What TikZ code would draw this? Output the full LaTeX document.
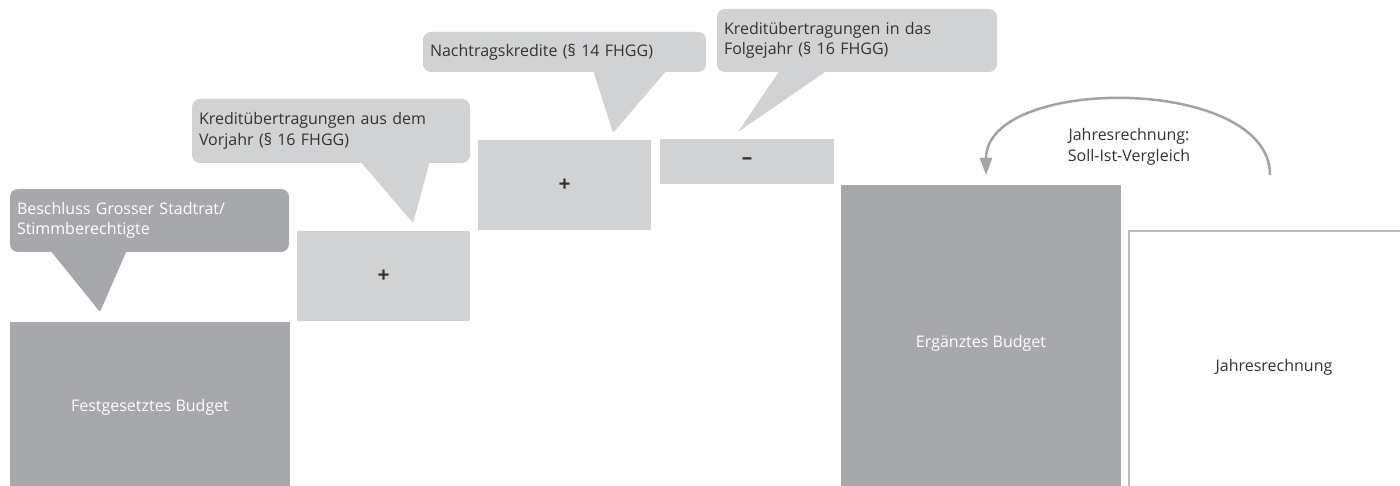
\documentclass[tikz,border=0pt]{standalone}
\usepackage{fontspec}
\setmainfont{Open Sans}
\usetikzlibrary{arrows.meta,calc}
\definecolor{darkgrey}{HTML}{A7A8AB}
\definecolor{lightgrey}{HTML}{D1D2D4}
\definecolor{textgrey}{HTML}{333333}
\definecolor{arcgrey}{HTML}{A2A3A6}

\begin{document}
\begin{tikzpicture}[x=1pt, y=-1pt,
			every node/.style = {shape=rectangle, inner sep=0pt, outer sep=0pt,
				font=\fontsize{16}{20.5}\selectfont},
			bigbox/.style = {anchor=north west, fill=darkgrey, text=white},
			addbox/.style = {anchor=north west, fill=lightgrey, text=textgrey,
				font=\fontsize{21}{20}\selectfont\bfseries},
			bubble/.style = {anchor=north west, rounded corners=8pt, align=left,
				inner xsep=7pt, text width=#1},
			arc/.style = {draw=arcgrey, line width=2.5pt,
				-{Triangle[width=12pt,length=17pt]}}]
			\useasboundingbox (0,0) rectangle (1400,486);
			\node[bigbox, minimum width=280pt, minimum height=170pt] (fb) at (10,322) {Festgesetztes Budget};
			\node[addbox, minimum width=173pt, minimum height=90pt] (plus1) at (297,231) {+};
			\node[addbox, minimum width=173pt, minimum height=90pt] (plus2) at (478,140) {+};
			\node[addbox, minimum width=174pt, minimum height=45pt] (minus) at (660,139) {–};
			\node[bigbox, minimum width=280pt, minimum height=316pt] (eb) at (841,185) {Ergänztes Budget};
			\node[anchor=north west, draw=black!27, line width=1.5pt, fill=white, text=textgrey,
				minimum width=290pt, minimum height=272pt] (jr) at (1129,231) {Jahresrechnung};
			\node[bubble=265pt, fill=darkgrey, text=white, minimum height=63pt] (beschluss) at (10,189)
				{Beschluss Grosser Stadtrat/\\Stimmberechtigte};
			\node[bubble=264pt, fill=lightgrey, text=textgrey, minimum height=64pt] (vorjahr) at (192,99)
				{Kreditübertragungen aus dem\\Vorjahr (§ 16 FHGG)};
			\node[bubble=269pt, fill=lightgrey, text=textgrey, minimum height=40pt] (nachtrag) at (423,32)
				{Nachtragskredite (§ 14 FHGG)};
			\node[bubble=266pt, fill=lightgrey, text=textgrey, minimum height=63pt] (folgejahr) at (717,9)
				{Kreditübertragungen in das\\Folgejahr (§ 16 FHGG)};
			\fill[darkgrey, rounded corners=1.5pt] ($(beschluss.south west)+(40,-2)$) -- ($(beschluss.south west)+(117,-2)$)
				-- ($(fb.north west)+(90,-10)$) -- cycle;
			\fill[lightgrey, rounded corners=1.5pt] ($(vorjahr.south west)+(168,-2)$) -- ($(vorjahr.south west)+(238,-2)$)
				-- ($(plus1.north west)+(116,-8)$) -- cycle;
			\fill[lightgrey, rounded corners=1.5pt] ($(nachtrag.south west)+(170,-2)$) -- ($(nachtrag.south west)+(244,-2)$)
				-- ($(plus2.north west)+(135,-7)$) -- cycle;
			\fill[lightgrey, rounded corners=1.5pt] ($(folgejahr.south west)+(63,-2)$) -- ($(folgejahr.south west)+(111,-2)$)
				-- ($(minus.north west)+(78,-7)$) -- cycle;
			\coordinate (arcstart) at (1270,175);
			\draw[arc] (arcstart) .. controls +(0,-100) and +(0,-100) .. ($(eb.north)+(5,-10)$);
			\node[text=textgrey, align=center] (soll) at (1129,147) {Jahresrechnung:\\Soll-Ist-Vergleich};
		\end{tikzpicture}
\end{document}
